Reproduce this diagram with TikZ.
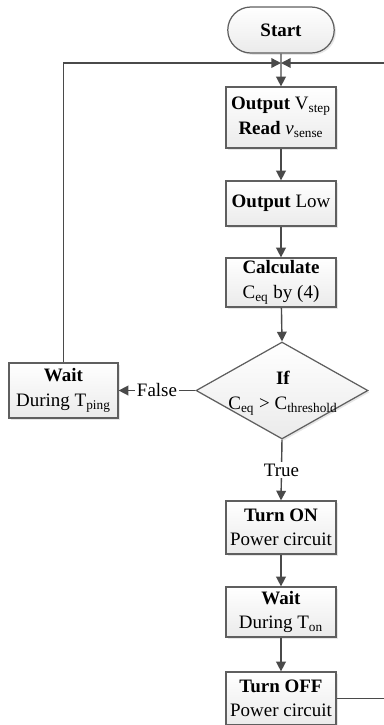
\documentclass[tikz,border=0pt]{standalone}
\usepackage{fontspec}
\setmainfont{Liberation Serif}
\usetikzlibrary{shapes.geometric,shapes.misc,arrows.meta,shadows}
\definecolor{edgecol}{HTML}{5F5F5F}
\definecolor{linecol}{HTML}{4A4A4A}
\begin{document}
\begin{tikzpicture}[x=0.02cm,y=-0.02cm,
  base/.style={draw=edgecol, line width=0.7pt, top color=white, bottom color=black!8,
    drop shadow={shadow xshift=0.035cm, shadow yshift=-0.035cm, opacity=0.2},
    font=\fontsize{10.8}{14}\selectfont, align=center, inner sep=1pt},
  proc/.style={base, rectangle, minimum width=2.2cm},
  term/.style={base, rounded rectangle, minimum width=2.2cm, minimum height=0.92cm},
  dec/.style={base, diamond, minimum width=3.44cm, minimum height=1.94cm, inner sep=0pt},
  txt/.style={font=\fontsize{10.8}{14}\selectfont, align=center, inner sep=0pt},
  conn/.style={draw=linecol, line width=0.8pt},
  arr/.style={conn, -{Triangle[length=5.5pt,width=5.5pt]}},
  lbl/.style={fill=white, inner sep=1pt, font=\fontsize{10.8}{14}\selectfont}
]
\useasboundingbox (0,0) rectangle (383,725);
\node[term] (start) at (281,30) {\textbf{Start}};
\coordinate (J) at (281,63);
\node[proc, minimum height=1.22cm] (b1) at (281,117.5) {\textbf{Output} V\textsubscript{step}\\\textbf{Read} \textit{v}\textsubscript{sense}};
\node[proc, minimum height=0.9cm] (b2) at (281,203.5) {\textbf{Output} Low};
\node[proc, minimum height=0.98cm] (b3) at (281,282.5) {\textbf{Calculate}\\C\textsubscript{eq} by (4)};
\node[dec] (dia) at (282,390.5) {};
\node[txt] (diatxt) at (283,393) {\textbf{If}\\C\textsubscript{eq} > C\textsubscript{threshold}};
\node[proc, minimum width=2.18cm, minimum height=1.1cm] (wait) at (63.5,390.5) {\textbf{Wait}\\During T\textsubscript{ping}};
\node[proc, minimum height=1.06cm] (on) at (281,527.5) {\textbf{Turn ON}\\Power circuit};
\node[proc, minimum height=1.0cm] (won) at (281,612) {\textbf{Wait}\\During T\textsubscript{on}};
\node[proc, minimum height=1.06cm] (off) at (281,698.5) {\textbf{Turn OFF}\\Power circuit};
\coordinate (LT) at (63.5,63);
\coordinate (RB) at (395,698.5);
\coordinate (RT) at (395,63);

\draw[arr] (start) -- (b1);
\draw[arr] (b1) -- (b2);
\draw[arr] (b2) -- (b3);
\draw[arr] (b3) -- (dia.north);
\draw[arr] (dia.west) -- node[lbl] (f) {False} (wait.east);
\draw[arr] (dia.south) -- node[lbl] (t) {True} (on.north);
\draw[arr] (on) -- (won);
\draw[arr] (won) -- (off);
\draw[arr] (wait.north) -- (LT) -- (J);
\draw[arr] (off.east) -- (RB) -- (RT) -- (J);
\end{tikzpicture}
\end{document}
